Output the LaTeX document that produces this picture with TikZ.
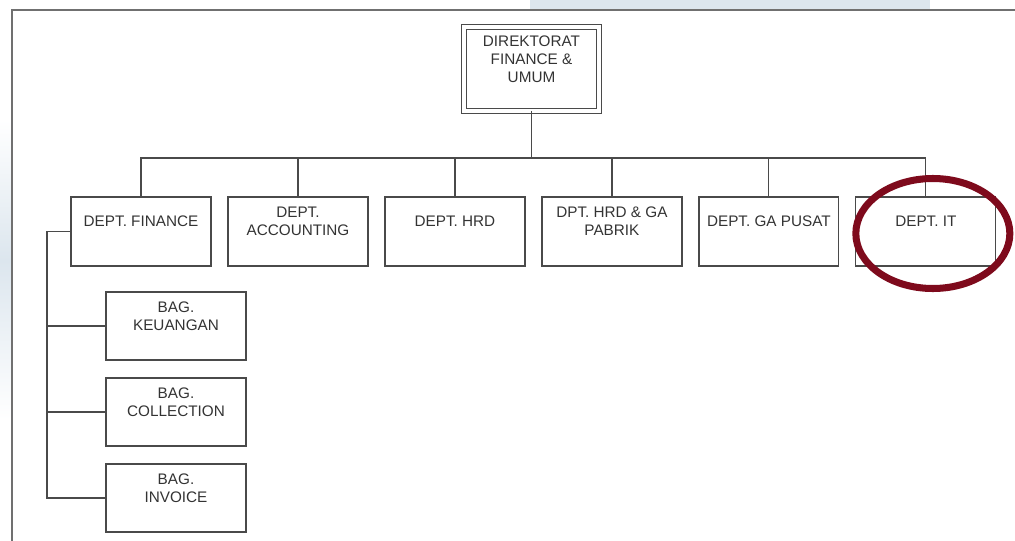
\documentclass[tikz,border=0pt]{standalone}
\usepackage{fontspec}
\setmainfont{Liberation Sans}
\usetikzlibrary{positioning}
\definecolor{linegray}{HTML}{4A4A4A}
\definecolor{framegray}{HTML}{707070}
\definecolor{markred}{HTML}{7E0A1C}
\definecolor{slideblue}{HTML}{DCE6EE}

\begin{document}
\begin{tikzpicture}[x=0.02cm, y=-0.02cm,
  box/.style={draw=linegray, line width=0.7pt, minimum width=2.8cm, minimum height=1.38cm, inner sep=0pt, outer sep=0pt},
  bagbox/.style={box, minimum height=1.36cm},
  txt/.style={yshift=0.2cm, align=center, text=black!80, font=\fontsize{8.7}{10.2}\selectfont},
  conn/.style={draw=linegray, line width=0.7pt}]
  \useasboundingbox (0,0) rectangle (1015,541);
  % slide background and frame
  \shade[top color=white, bottom color=slideblue] (0,120) rectangle (12,260);
  \shade[top color=slideblue, bottom color=white] (0,260) rectangle (12,420);
  \fill[slideblue] (530,0) rectangle (930,9);
  \draw[framegray, line width=1.2pt] (12,541) -- (12,10) -- (1015,10);

  \node[box, double=white, double distance=1.8pt, minimum width=2.7cm, minimum height=1.68cm,
        label={[txt]center:DIREKTORAT\\FINANCE \&\\UMUM}] (dir) at (531.5,69) {};

  \node[box, label={[txt]center:DEPT. FINANCE}] (fin) at (141,231.5) {};
  \node[box, right=0.34cm of fin, label={[txt]center:DEPT.\\ACCOUNTING}] (acc) {};
  \node[box, right=0.34cm of acc, label={[txt]center:DEPT. HRD}] (hrd) {};
  \node[box, right=0.34cm of hrd, label={[txt]center:DPT. HRD \& GA\\PABRIK}] (pab) {};
  \node[box, right=0.34cm of pab, label={[txt]center:DEPT. GA PUSAT}] (ga) {};
  \node[box, right=0.34cm of ga, label={[txt]center:DEPT. IT}] (it) {};

  \node[bagbox, label={[txt]center:BAG.\\KEUANGAN}] (keu) at (176,326) {};
  \node[bagbox, below=0.36cm of keu, label={[txt]center:BAG.\\COLLECTION}] (col) {};
  \node[bagbox, below=0.36cm of col, label={[txt]center:BAG.\\INVOICE}] (inv) {};

  % connectors
  \coordinate (bus) at (531.5,158);
  \coordinate (spine) at (47,0);
  \draw[conn] (dir.south) -- (bus);
  \draw[conn] (fin.north) -- (fin.north |- bus) -- (it.north |- bus) -- (it.north);
  \foreach \n in {acc,hrd,pab,ga}
    \draw[conn] (\n.north) -- (\n.north |- bus);
  \draw[conn] (fin.west) -- (fin.west -| spine) |- (inv.west);
  \foreach \n in {keu,col}
    \draw[conn] (\n.west) -- (\n.west -| spine);

  % highlight
  \draw[markred, line width=4pt] (it.center) ++(7,2) ellipse [x radius=77, y radius=55];
\end{tikzpicture}
\end{document}
